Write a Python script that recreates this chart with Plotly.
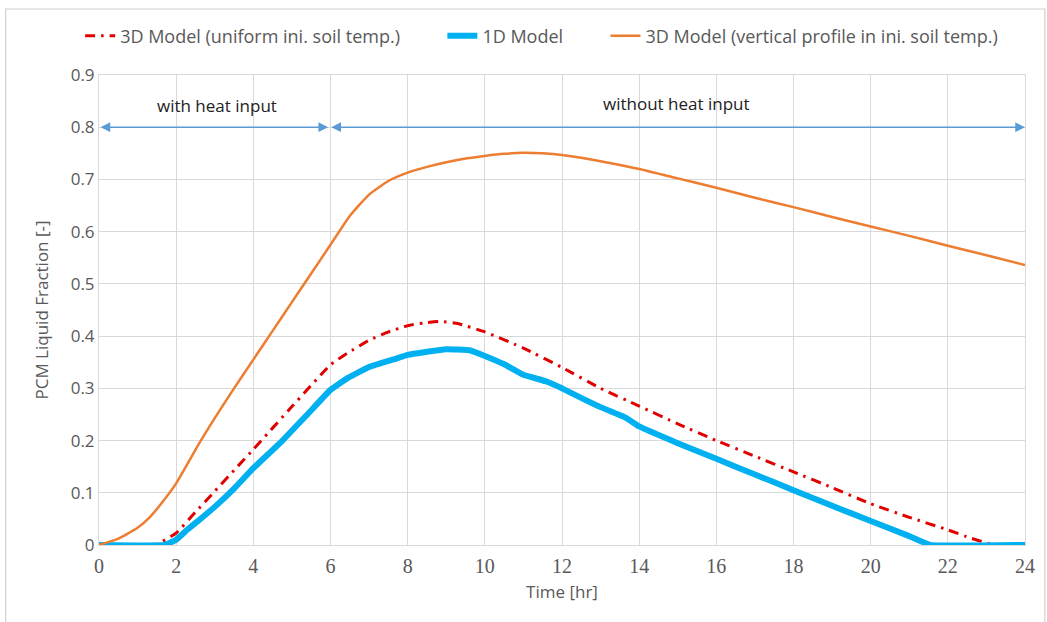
import plotly.graph_objects as go

# 3D Model (uniform initial soil temperature)
t_red = [0, 1.45, 2, 2.5, 3, 3.5, 4, 5, 6, 6.45, 7, 7.5, 8, 8.4, 8.84, 9.3, 10, 11, 12, 13, 14, 15, 16, 17, 18, 19, 20, 21, 22, 22.6, 23.2, 24]
v_red = [0, 0, 0.023, 0.063, 0.103, 0.143, 0.183, 0.265, 0.345, 0.368, 0.392, 0.408, 0.42, 0.425, 0.428, 0.424, 0.408, 0.377, 0.34, 0.3, 0.266, 0.232, 0.2, 0.17, 0.14, 0.11, 0.079, 0.053, 0.029, 0.013, 0, 0]

# 1D Model
t_blue = [0, 1.7, 2, 2.3, 2.6, 3.0, 3.5, 4, 4.73, 5.4, 6, 6.45, 7, 7.7, 8, 8.5, 9, 9.6, 10, 10.5, 11, 11.6, 12, 12.6, 13, 13.65, 14, 15, 16, 17, 18, 19, 20, 21, 21.55, 24]
v_blue = [0, 0, 0.01, 0.03, 0.048, 0.073, 0.108, 0.147, 0.198, 0.25, 0.297, 0.32, 0.341, 0.357, 0.364, 0.37, 0.375, 0.373, 0.362, 0.346, 0.326, 0.313, 0.3, 0.278, 0.264, 0.244, 0.227, 0.195, 0.165, 0.135, 0.105, 0.075, 0.046, 0.017, 0, 0]

# 3D Model (vertical profile in initial soil temperature)
t_orange = [0, 0.5, 1, 1.3, 1.6, 2, 2.6, 3, 3.5, 4, 4.5, 5, 5.5, 6, 6.5, 7, 7.5, 8, 8.5, 9, 9.5, 10, 10.5, 11, 11.5, 12, 13, 14, 15, 16, 17, 18, 19, 20, 21, 22, 23, 24]
v_orange = [0, 0.012, 0.033, 0.052, 0.078, 0.118, 0.195, 0.243, 0.3, 0.355, 0.41, 0.465, 0.52, 0.575, 0.63, 0.671, 0.697, 0.713, 0.724, 0.733, 0.740, 0.745, 0.749, 0.751, 0.750, 0.747, 0.735, 0.72, 0.702, 0.684, 0.665, 0.647, 0.628, 0.61, 0.592, 0.573, 0.555, 0.536]

x_ticks = list(range(0, 25, 2))
y_ticks = [0, 0.1, 0.2, 0.3, 0.4, 0.5, 0.6, 0.7, 0.8, 0.9]
y_tick_text = ["0", "0.1", "0.2", "0.3", "0.4", "0.5", "0.6", "0.7", "0.8", "0.9"]

names = ["3D Model (uniform ini. soil temp.)", "1D Model", "3D Model (vertical profile in ini. soil temp.)"]

SANS = "Open Sans"
SERIF = "Liberation Serif"
GRAY = "#595959"
PAD = "\u00a0" * 8

fig = go.Figure()
fig.add_trace(go.Scatter(x=t_red, y=v_red, mode="lines", name=names[0] + PAD,
                         line=dict(color="#E00000", width=3, dash="10px,6px,2.5px,6px", shape="spline", smoothing=0.4)))
fig.add_trace(go.Scatter(x=t_blue, y=v_blue, mode="lines", name=names[1] + PAD,
                         line=dict(color="#00B0F0", width=6, shape="spline", smoothing=0.3)))
fig.add_trace(go.Scatter(x=t_orange, y=v_orange, mode="lines", name=names[2],
                         line=dict(color="#ED7D31", width=2.5, shape="spline", smoothing=0.5)))

arrow_color = "#5B9BD5"
for (x0, x1) in [(0, 5.94), (5.98, 24)]:
    fig.add_annotation(x=x1, y=0.8, ax=x0, ay=0.8, xref="x", yref="y", axref="x", ayref="y",
                       showarrow=True, arrowhead=2, startarrowhead=2, arrowside="end+start",
                       arrowsize=1.3, startarrowsize=1.3, arrowwidth=1.5, arrowcolor=arrow_color, text="")

fig.add_annotation(x=3.05, y=0.842, xref="x", yref="y", text="with heat input", showarrow=False,
                   font=dict(family=SANS, size=17, color="#222222"))
fig.add_annotation(x=14.97, y=0.846, xref="x", yref="y", text="without heat input", showarrow=False,
                   font=dict(family=SANS, size=17, color="#222222"))

# outer chart border
W, H = 1047, 622
L, R, T, B = 99, 15, 75, 77
pw, ph = W - L - R, H - T - B
fig.add_shape(type="rect", xref="paper", yref="paper",
              x0=(5 - L) / pw, x1=(W + 5 - L) / pw,
              y0=-(B + 10) / ph, y1=1 + (T - 9) / ph,
              line=dict(color="#D0D0D0", width=1.2), fillcolor="rgba(0,0,0,0)", layer="below")

fig.update_layout(
    width=W, height=H,
    margin=dict(l=L, r=R, t=T, b=B),
    paper_bgcolor="white", plot_bgcolor="white",
    showlegend=True,
    legend=dict(orientation="h", x=0.478, xanchor="center", y=1 + 39 / ph, yanchor="middle",
                font=dict(family=SANS, size=18, color=GRAY), itemwidth=30, traceorder="normal",
                bgcolor="rgba(0,0,0,0)"),
    xaxis=dict(range=[0, 24], tickvals=x_ticks, showgrid=True, gridcolor="#D9D9D9", gridwidth=1,
               zeroline=False, showline=True, linecolor="#D9D9D9", mirror=True, ticks="",
               ticklabelstandoff=3,
               tickfont=dict(family=SERIF, size=20, color=GRAY),
               title=dict(text="Time [hr]", font=dict(family=SANS, size=17, color=GRAY), standoff=10)),
    yaxis=dict(range=[0, 0.9], tickvals=y_ticks, ticktext=y_tick_text, showgrid=True, gridcolor="#D9D9D9",
               gridwidth=1, zeroline=False, showline=True, linecolor="#D9D9D9", mirror=True, ticks="",
               tickfont=dict(family=SANS, size=17, color=GRAY),
               title=dict(text="PCM Liquid Fraction [-]", font=dict(family=SANS, size=17, color=GRAY), standoff=17)),
)

fig.write_html("out.html")
